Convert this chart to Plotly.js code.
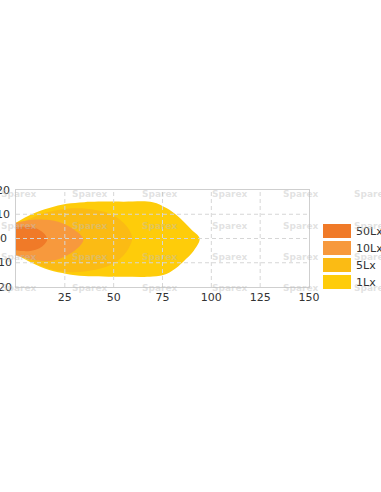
<!DOCTYPE html>
<html>
<head>
<meta charset="utf-8">
<script src="https://cdn.plot.ly/plotly-3.0.1.min.js"></script>
<style>html,body{margin:0;padding:0;background:#fff;}#chart{width:381px;height:492px;}</style>
</head>
<body>
<div id="chart"></div>
<script>
// ---- data ----
const xTicks = [25, 50, 75, 100, 125, 150];
const yTicks = [-20, -10, 0, 10, 20];
const levels = ['50Lx', '10Lx', '5Lx', '1Lx'];
const levelColors = ['#F07A28', '#F7993D', '#FBBB14', '#FECC0A'];

// isolux contours (distance m, lateral m)
const lx1X = [0, 8, 17, 26, 35, 55, 70, 77, 82, 86, 90, 94, 91, 87, 83, 77, 70, 55, 35, 26, 17, 8, 0];
const lx1Y = [6.5, 10, 12.6, 14.3, 15, 15.2, 15, 12.6, 9.8, 6.8, 3.5, 0, -5, -8.5, -11.5, -14.6, -15.7, -15.8, -15.5, -14.6, -13, -10, -6.5];

const lx5X = [0, 8, 17, 26, 36, 45, 51, 55, 58, 59.5, 58, 55, 51, 45, 36, 26, 17, 8, 0];
const lx5Y = [5.5, 8.5, 11, 12.3, 12.3, 11, 9, 6.5, 3.5, 0, -3.5, -7, -9.7, -12, -13.5, -13.8, -12.5, -9.5, -5.5];

const lx10X = [0, 5, 10, 17, 22, 26, 30, 33, 34.5, 33, 30, 26, 22, 17, 10, 5, 0];
const lx10Y = [6.5, 7.3, 7.8, 7.6, 6.8, 5.5, 3.5, 1.5, -0.5, -2.8, -5, -7, -8.5, -9.3, -9, -8, -7];

const lx50X = [0, 4, 8, 12, 14.5, 16, 14.5, 12, 8, 4, 0];
const lx50Y = [4.5, 4.8, 4.6, 3.5, 2, -0.3, -2.5, -4, -5, -5.2, -4.8];

const watermark = 'Sparex';

// ---- layout geometry (pixels) ----
const W = 381, H = 492;
const L = 16, R = 309, T = 190, B = 287;
const px2paperX = p => (p - L) / (R - L);
const px2paperY = p => (B - p) / (B - T);

const contours = [
  {x: lx1X, y: lx1Y, i: 3},
  {x: lx5X, y: lx5Y, i: 2},
  {x: lx10X, y: lx10Y, i: 1},
  {x: lx50X, y: lx50Y, i: 0}
];

const traces = contours.map(c => ({
  type: 'scatter',
  mode: 'lines',
  x: c.x, y: c.y,
  name: levels[c.i],
  fill: 'toself',
  fillcolor: levelColors[c.i],
  line: {width: 0, shape: 'spline', smoothing: 1, color: levelColors[c.i]},
  hoverinfo: 'skip',
  showlegend: false
}));

const gridColor = '#d6d6d6';
const shapes = [];
xTicks.filter(t => t < 150).forEach(t => shapes.push({
  type: 'line', xref: 'x', yref: 'y', x0: t, x1: t, y0: -20, y1: 20,
  line: {color: gridColor, width: 1, dash: '4px,3px'}, layer: 'above'
}));
yTicks.filter(t => t > -20 && t < 20).forEach(t => shapes.push({
  type: 'line', xref: 'x', yref: 'y', x0: 0, x1: 150, y0: t, y1: t,
  line: {color: gridColor, width: 1, dash: '4px,3px'}, layer: 'above'
}));

const annotations = [];
// y tick labels (centered, partly clipped like the reference)
yTicks.forEach(t => annotations.push({
  xref: 'paper', yref: 'y', x: px2paperX(3), y: t, text: String(t),
  showarrow: false, xanchor: 'center', yanchor: 'middle',
  font: {family: 'DejaVu Sans', size: 11, color: '#333'}
}));

// legend
levels.forEach((lv, i) => {
  const top = 224 + i * 17, h = 14;
  shapes.push({
    type: 'rect', xref: 'paper', yref: 'paper',
    x0: px2paperX(323), x1: px2paperX(351), y0: px2paperY(top + h), y1: px2paperY(top),
    fillcolor: levelColors[i], line: {width: 0}, layer: 'above'
  });
  annotations.push({
    xref: 'paper', yref: 'paper', x: px2paperX(354), y: px2paperY(top + h / 2),
    text: lv, showarrow: false, xanchor: 'left', yanchor: 'middle',
    font: {family: 'DejaVu Sans', size: 11, color: '#333'}
  });
});

// watermark
[19, 90, 160, 230, 301, 372].forEach(cx => [194, 225.5, 257, 288].forEach(cy => annotations.push({
  xref: 'paper', yref: 'paper', x: px2paperX(cx), y: px2paperY(cy),
  text: '<b>' + watermark + '</b>', showarrow: false, xanchor: 'center', yanchor: 'middle',
  font: {family: 'DejaVu Sans', size: 9, color: 'rgba(190,190,190,0.45)'}
})));

const layout = {
  width: W, height: H,
  margin: {l: L, r: W - R, t: T, b: H - B, pad: 0},
  paper_bgcolor: '#fff', plot_bgcolor: '#fff',
  showlegend: false,
  xaxis: {
    range: [0, 150], tickvals: xTicks, ticktext: xTicks.map(String),
    showgrid: false, zeroline: false, ticks: '',
    showline: true, mirror: true, linecolor: '#cfcfcf', linewidth: 1,
    tickfont: {family: 'DejaVu Sans', size: 11, color: '#333'}, fixedrange: true
  },
  yaxis: {
    range: [-20, 20], tickvals: yTicks, showticklabels: false,
    showgrid: false, zeroline: false, ticks: '',
    showline: true, mirror: true, linecolor: '#cfcfcf', linewidth: 1, fixedrange: true
  },
  shapes: shapes,
  annotations: annotations
};

Plotly.newPlot('chart', traces, layout, {staticPlot: true, displayModeBar: false});
</script>
</body>
</html>
